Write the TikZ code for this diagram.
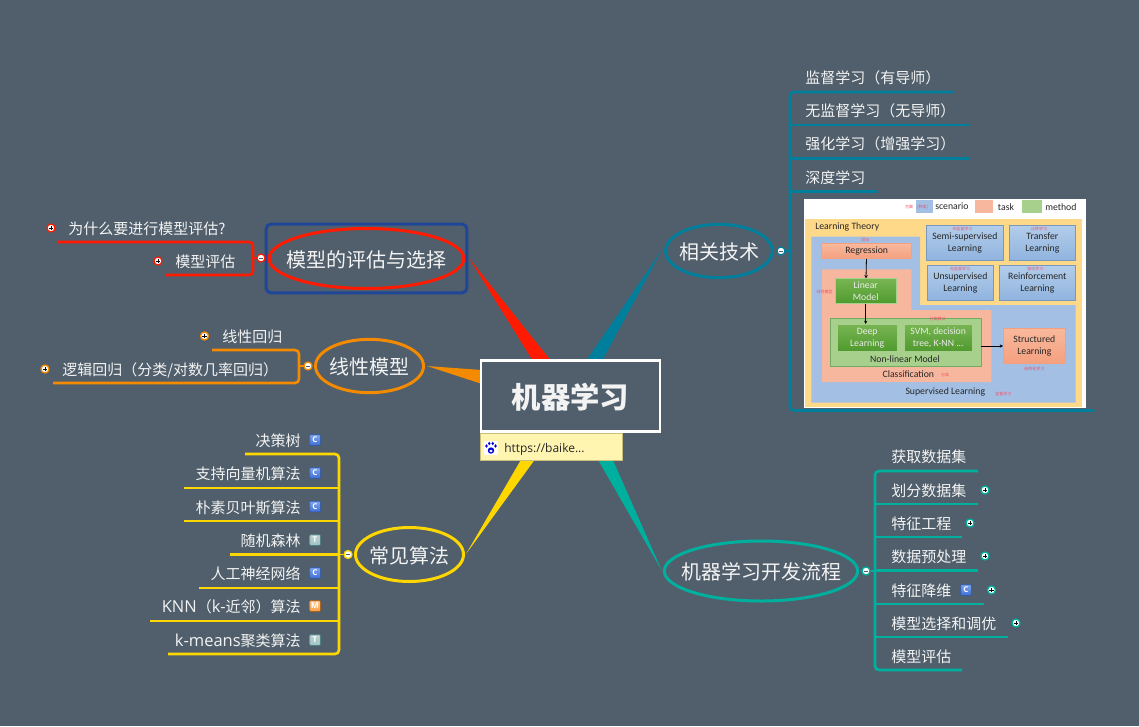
\documentclass[tikz,border=0pt]{standalone}
\usepackage{fontspec}
\setmainfont{Noto Sans CJK SC}
\newfontfamily\latinf{Open Sans}
\newfontfamily\latinb[Scale=1.1]{Open Sans}
\newfontfamily\imgf{Carlito}
\usetikzlibrary{shapes.geometric,arrows.meta}
\definecolor{bgc}{HTML}{505F6B}
\definecolor{txt}{HTML}{F3F3F3}
\definecolor{redc}{HTML}{FF1A00}
\definecolor{orac}{HTML}{F48A00}
\definecolor{bluc}{HTML}{007F9C}
\definecolor{yelc}{HTML}{FFD700}
\definecolor{teac}{HTML}{00B09E}
\definecolor{navc}{HTML}{1F4697}
\definecolor{iyel}{HTML}{FFD98A}
\definecolor{iblu}{HTML}{A3C0E4}
\definecolor{isal}{HTML}{F6B79E}
\definecolor{igre}{HTML}{A8D08D}
\definecolor{ired}{HTML}{F0506A}
\newcommand{\zbox}[7]{%
  \pgfmathsetlengthmacro\zw{(#4-#2)*0.25pt}%
  \pgfmathsetlengthmacro\zh{(#5-#3)*0.25pt}%
  \node[inner sep=0pt,minimum width=\zw,minimum height=\zh,align=center,#6] (#1) at ({(#2+#4)/2},{(#3+#5)/2}) {#7};}
\tikzset{
  leaf/.style={text=txt,inner sep=0pt,yshift=-.75pt,font=\fontsize{11.25}{13}\selectfont},
  topic/.style={ellipse,inner sep=0pt,line width=2.25pt,fill=bgc},
  topictext/.style={text=txt,inner sep=0pt,yshift=-.75pt,font=\fontsize{15}{18}\selectfont},
  twig/.style={line width=2pt,rounded corners=3pt},
  dotbase/.style={circle,fill=white,draw=#1,line width=.95pt,minimum size=6pt,inner sep=0pt},
  dotminus/.style={dotbase=#1,path picture={\draw[line width=.45pt,bgc] ([xshift=-1.6pt]path picture bounding box.center) -- ([xshift=1.6pt]path picture bounding box.center);}},
  dotplus/.style={dotbase=#1,path picture={\draw[line width=.45pt,black] ([xshift=-1.6pt]path picture bounding box.center) -- ([xshift=1.6pt]path picture bounding box.center) ([yshift=-1.6pt]path picture bounding box.center) -- ([yshift=1.6pt]path picture bounding box.center);}},
  badge/.style={rounded corners=.6pt,minimum size=8pt,inner sep=0pt,text=white,font=\latinf\bfseries\fontsize{6}{6}\selectfont,line width=.5pt},
  badgeC/.style={badge,draw=blue!60!black,top color=blue!35!white,bottom color=blue!70!white!90!black},
  badgeT/.style={badge,draw=teal!50!gray,top color=cyan!15!gray!45!white,bottom color=cyan!25!gray!60!white},
  badgeM/.style={badge,draw=orange!70!black,top color=orange!40!white,bottom color=orange!75!white},
  ibox/.style={draw=iblu!85!black,line width=.4pt,top color=iblu!85!white,bottom color=iblu!90!black,text=black!85},
  gbox/.style={draw=igre,line width=.4pt,top color=green!45!black!60!white,bottom color=green!45!black!85!white,text=white},
  sbox/.style={draw=orange!60!red!60!white,line width=.4pt,top color=isal,bottom color=orange!50!red!50!white,text=black!85},
  itext/.style={text=black!85,inner sep=0pt,font=\imgf\fontsize{7.3}{9}\selectfont},
  itiny/.style={text=ired,inner sep=0pt,font=\fontsize{3}{3}\selectfont},
  iarrow/.style={draw=black,line width=.6pt,-{Stealth[length=2.5pt,width=2.5pt]}},
}
\definecolor{bc1}{HTML}{7FA6F0}
\definecolor{bc2}{HTML}{3F6FD6}
\definecolor{bc3}{HTML}{2B55A8}
\definecolor{gb1}{HTML}{78B552}
\definecolor{gb2}{HTML}{4F9A2E}
\definecolor{ib1}{HTML}{B3CDEA}
\definecolor{ib2}{HTML}{8FB3DE}
\definecolor{sb1}{HTML}{F9B99D}
\definecolor{sb2}{HTML}{F4A07F}
\tikzset{
  badgeC/.style={badge,draw=bc3,top color=bc1,bottom color=bc2},
  gbox/.style={draw=igre,line width=.4pt,top color=gb1,bottom color=gb2,text=white!92!black},
  ibox/.style={draw=ib2!85!black,line width=.4pt,top color=ib1,bottom color=ib2,text=black!85},
  sbox/.style={draw=sb2,line width=.4pt,top color=sb1,bottom color=sb2,text=black!85},
}
\begin{document}
\begin{tikzpicture}[x=0.75pt,y=-0.75pt]
\fill[bgc] (0,0) rectangle (1139,726);
\useasboundingbox (0,0) rectangle (1139,726);

% tapered main branches
\coordinate (tipred) at (469,258);
\coordinate (tipora) at (427,366);
\coordinate (tipblu) at (662,250);
\coordinate (tipyel) at (466,554);
\coordinate (tiptea) at (662,571);
\fill[redc] (tipred) -- (533,361) -- (551,361) -- cycle;
\fill[orac] (tipora) -- (482,370) -- (482,384) -- cycle;
\fill[bluc] (tipblu) -- (586,361) -- (602,361) -- cycle;
\fill[yelc] (tipyel) -- (522,458) -- (536,458) -- cycle;
\fill[teac] (tiptea) -- (597,458) -- (612,458) -- cycle;

% root
\node[draw=white,line width=1.9pt,fill=bgc,minimum width=134.5pt,minimum height=53pt,inner sep=0pt] (root) at (570.5,396) {};
\node[inner sep=0pt,text=txt,font=\bfseries\fontsize{22}{24}\selectfont] (roottext) at (570.5,397.5) {机器学习};
\definecolor{linkf}{HTML}{FFF5B1}
\definecolor{linkd}{HTML}{C9BE7D}
\node[draw=linkd,line width=.6pt,fill=linkf,minimum width=107pt,minimum height=20pt,inner sep=0pt] (link) at (551.5,447) {};
\node[anchor=west,inner sep=0pt,text=black!85,font=\latinf\fontsize{9}{11}\selectfont] (linktext) at (504,449) {https://baike...};
\node[fill=white,minimum size=10pt,inner sep=0pt] (baidu) at (491,448) {};
\fill[blue!85!black] (491,450.5) ellipse (3.2 and 3.2);
\foreach \a/\b in {486.5/446,489.3/443.5,492.7/443.5,495.5/446}{\fill[blue!85!black] (\a,\b) ellipse (1.3 and 1.8);}
\fill[white] (491,451) ellipse (1.6 and 1.4);

% topics
\node[draw=navc,line width=2.25pt,rounded corners=3.5pt,minimum width=150.5pt,minimum height=51.5pt,inner sep=0pt] (t1box) at (366.5,258.5) {};
\node[topic,draw=redc,minimum width=146pt,minimum height=45pt] (t1) at (366.5,258.5) {};
\node[topictext] (t1t) at (366.5,258.5) {模型的评估与选择};
\node[topic,draw=orac,minimum width=81pt,minimum height=40pt] (t2) at (369.5,366) {};
\node[topictext] (t2t) at (369.5,366) {线性模型};
\node[topic,draw=bluc,minimum width=80pt,minimum height=40pt] (t3) at (719,251) {};
\node[topictext] (t3t) at (719,251) {相关技术};
\node[topic,draw=yelc,minimum width=81pt,minimum height=40.5pt] (t4) at (409.5,554.5) {};
\node[topictext] (t4t) at (409.5,554.5) {常见算法};
\node[topic,draw=teac,minimum width=145pt,minimum height=45pt] (t5) at (761,571) {};
\node[topictext] (t5t) at (761,571) {机器学习开发流程};

% red subtree
\coordinate (r1) at (58,242);
\coordinate (r2) at (166,275);
\coordinate (rc) at (253,258);
\draw[twig,redc] (r1) -- (253,242) -- (253,275) -- (r2);
\draw[redc,line width=1pt] (261,258) -- (rc);
\node[dotminus=redc] (dr) at (261,258) {};
\node[leaf,anchor=west] (l1) at (68,228) {为什么要进行模型评估?};
\node[leaf,anchor=west] (l2) at (175,261) {模型评估};
\node[dotplus=redc] (dl1) at (51,228) {};
\node[dotplus=redc] (dl2) at (158,261) {};

% orange subtree
\coordinate (o1) at (212,350);
\coordinate (o2) at (53,383);
\coordinate (oc) at (299,366);
\draw[twig,orac] (o1) -- (299,350) -- (299,383) -- (o2);
\draw[orac,line width=1pt] (308,366) -- (oc);
\node[dotminus=orac] (do) at (308,366) {};
\node[leaf,anchor=west] (l3) at (222,336) {线性回归};
\node[leaf,anchor=west] (l4) at (62,369) {逻辑回归（分类/对数几率回归）};
\node[dotplus=orac] (dl3) at (204.5,336) {};
\node[dotplus=orac] (dl4) at (45,369) {};

% yellow subtree
\coordinate (y1) at (245,454);
\coordinate (y2) at (184,488);
\coordinate (y3) at (184,521);
\coordinate (y4) at (230,554.5);
\coordinate (y5) at (199,588);
\coordinate (y6) at (150,621);
\coordinate (y7) at (168,654);
\draw[twig,yelc] (y1) -- (339,454) -- (339,654) -- (y7);
\foreach \c in {y2,y3,y4,y5,y6}{\draw[yelc,line width=2pt] (\c) -- (\c -| 339,0);}
\node[dotminus=yelc] (dy) at (348,554.5) {};
\draw[yelc,line width=1pt] (dy) -- (339,554.5);
\node[leaf,anchor=east] (a1) at (301,440) {决策树};
\node[leaf,anchor=east] (a2) at (301,473) {支持向量机算法};
\node[leaf,anchor=east] (a3) at (301,506.5) {朴素贝叶斯算法};
\node[leaf,anchor=east] (a4) at (301,540) {随机森林};
\node[leaf,anchor=east] (a5) at (301,573) {人工神经网络};
\node[leaf,anchor=east] (a6) at (301,606) {{\latinb KNN}（{\latinb k-}近邻）算法};
\node[leaf,anchor=east] (a7) at (301,640) {{\latinb k-means}聚类算法};
\node[badgeC] (b1) at (315,440) {C};
\node[badgeC] (b2) at (315,473) {C};
\node[badgeC] (b3) at (315,506.5) {C};
\node[badgeT] (b4) at (315,540) {T};
\node[badgeC] (b5) at (315,573) {C};
\node[badgeM] (b6) at (315,606) {M};
\node[badgeT] (b7) at (315,640) {T};

% teal subtree
\coordinate (e1) at (978,471);
\coordinate (e2) at (978,504);
\coordinate (e3) at (962,537);
\coordinate (e4) at (978,570.5);
\coordinate (e5) at (984,604);
\coordinate (e6) at (1008,637);
\coordinate (e7) at (962,670);
\draw[twig,teac] (e1) -- (875,471) -- (875,670) -- (e7);
\foreach \c in {e2,e3,e4,e5,e6}{\draw[teac,line width=2pt] (\c) -- (\c -| 875,0);}
\node[dotminus=teac] (dt) at (866,571) {};
\draw[teac,line width=1pt] (dt) -- (875,571);
\node[leaf,anchor=west] (p1) at (891,456) {获取数据集};
\node[leaf,anchor=west] (p2) at (891,490) {划分数据集};
\node[leaf,anchor=west] (p3) at (891,523) {特征工程};
\node[leaf,anchor=west] (p4) at (891,556) {数据预处理};
\node[leaf,anchor=west] (p5) at (891,590) {特征降维};
\node[leaf,anchor=west] (p6) at (891,623) {模型选择和调优};
\node[leaf,anchor=west] (p7) at (891,656) {模型评估};
\node[dotplus=teac] (dp2) at (985,490) {};
\node[dotplus=teac] (dp3) at (970,523) {};
\node[dotplus=teac] (dp4) at (985,556) {};
\node[dotplus=teac] (dp5) at (991.5,590) {};
\node[dotplus=teac] (dp6) at (1016,623) {};
\node[badgeC] (b8) at (966,590) {C};

% blue subtree
\coordinate (u1) at (953,92);
\coordinate (u2) at (969,125);
\coordinate (u3) at (969,158.5);
\coordinate (u4) at (877,191.5);
\coordinate (u5) at (1094,410.5);
\draw[twig,bluc] (u1) -- (790,92) -- (790,410.5) -- (u5);
\foreach \c in {u2,u3,u4}{\draw[bluc,line width=2pt] (\c) -- (\c -| 790,0);}
\node[dotminus=bluc] (dc) at (781,251) {};
\draw[bluc,line width=1pt] (dc) -- (790,251);
\node[leaf,anchor=west] (q1) at (805,77) {监督学习（有导师）};
\node[leaf,anchor=west] (q2) at (805,110) {无监督学习（无导师）};
\node[leaf,anchor=west] (q3) at (805,143) {强化学习（增强学习）};
\node[leaf,anchor=west] (q4) at (805,177) {深度学习};

% embedded figure, in 3x crop coordinates
\begin{scope}[shift={(790,190)},x=0.25pt,y=-0.25pt]
\fill[white] (42,27) rectangle (888,655);
\fill[iyel] (45,88) rectangle (875,650);
\fill[iblu] (64,140) -- (390,140) -- (390,345) -- (857,345) -- (857,638) -- (64,638) -- cycle;
\fill[isal] (96,238) -- (364,238) -- (364,360) -- (604,360) -- (604,576) -- (96,576) -- cycle;
\zbox{leg1}{378}{30}{428}{70}{fill=iblu}{}
\zbox{leg2}{555}{30}{610}{70}{fill=isal}{}
\zbox{leg3}{695}{30}{755}{70}{fill=igre}{}
\node[itext,anchor=west] (legt1) at (435,50) {scenario};
\node[itext,anchor=west] (legt2) at (623,50) {task};
\node[itext,anchor=west] (legt3) at (765,50) {method};
\node[itiny,anchor=east] (legr1) at (370,52) {方案};
\node[itiny] (legr2) at (398,52) {[种类]};
\node[itext,anchor=west] (lt) at (75,111) {Learning Theory};
\zbox{semi}{408}{106}{641}{212}{ibox,font=\imgf\fontsize{7.3}{9}\selectfont}{Semi-supervised\\Learning}
\zbox{trans}{657}{106}{857}{212}{ibox,font=\imgf\fontsize{7.3}{9}\selectfont}{Transfer\\Learning}
\zbox{unsup}{411}{226}{611}{332}{ibox,font=\imgf\fontsize{7.3}{9}\selectfont}{Unsupervised\\Learning}
\zbox{reinf}{627}{226}{857}{332}{ibox,font=\imgf\fontsize{7.3}{9}\selectfont}{Reinforcement\\Learning}
\zbox{regr}{95}{160}{365}{206}{sbox,font=\imgf\fontsize{7.3}{9}\selectfont}{Regression}
\zbox{lin}{136}{266}{318}{340}{gbox,font=\imgf\fontsize{7.3}{9}\selectfont}{Linear\\Model}
\zbox{nonlin}{121}{385}{575}{530}{fill=igre,draw=igre!85!green!80!black,line width=.4pt}{}
\zbox{deep}{141}{403}{322}{484}{gbox,font=\imgf\fontsize{7.3}{9}\selectfont}{Deep\\Learning}
\zbox{svm}{343}{403}{546}{484}{gbox,font=\imgf\fontsize{7.3}{9}\selectfont}{SVM, decision\\tree, K-NN ...}
\zbox{struct}{640}{414}{826}{520}{sbox,font=\imgf\fontsize{7.3}{9}\selectfont}{Structured\\Learning}
\node[itext] (nlt) at (345,506) {Non-linear Model};
\node[itext] (clt) at (355,553) {Classification};
\node[itext] (slt) at (466,607) {Supervised Learning};
\node[itiny] (r01) at (517,118) {半监督学习};
\node[itiny] (r02) at (747,118) {迁移学习};
\node[itiny] (r03) at (510,238) {无监督学习};
\node[itiny] (r04) at (735,236) {强化学习};
\node[itiny] (r05) at (226,150) {回归};
\node[itiny] (r06) at (104,305) {线性模型};
\node[itiny] (r07) at (443,388) {分类算法};
\node[itiny] (r08) at (465,555) {分类};
\node[itiny] (r09) at (733,538) {结构化学习};
\node[itiny] (r10) at (640,613) {监督学习};
\draw[iarrow] (regr) -- (lin);
\draw[iarrow] (lin) -- (lin |- deep.north);
\draw[iarrow] (svm.east |- 0,468) ++(26,0) -- (struct.west |- 0,468);
\end{scope}
\end{tikzpicture}
\end{document}
